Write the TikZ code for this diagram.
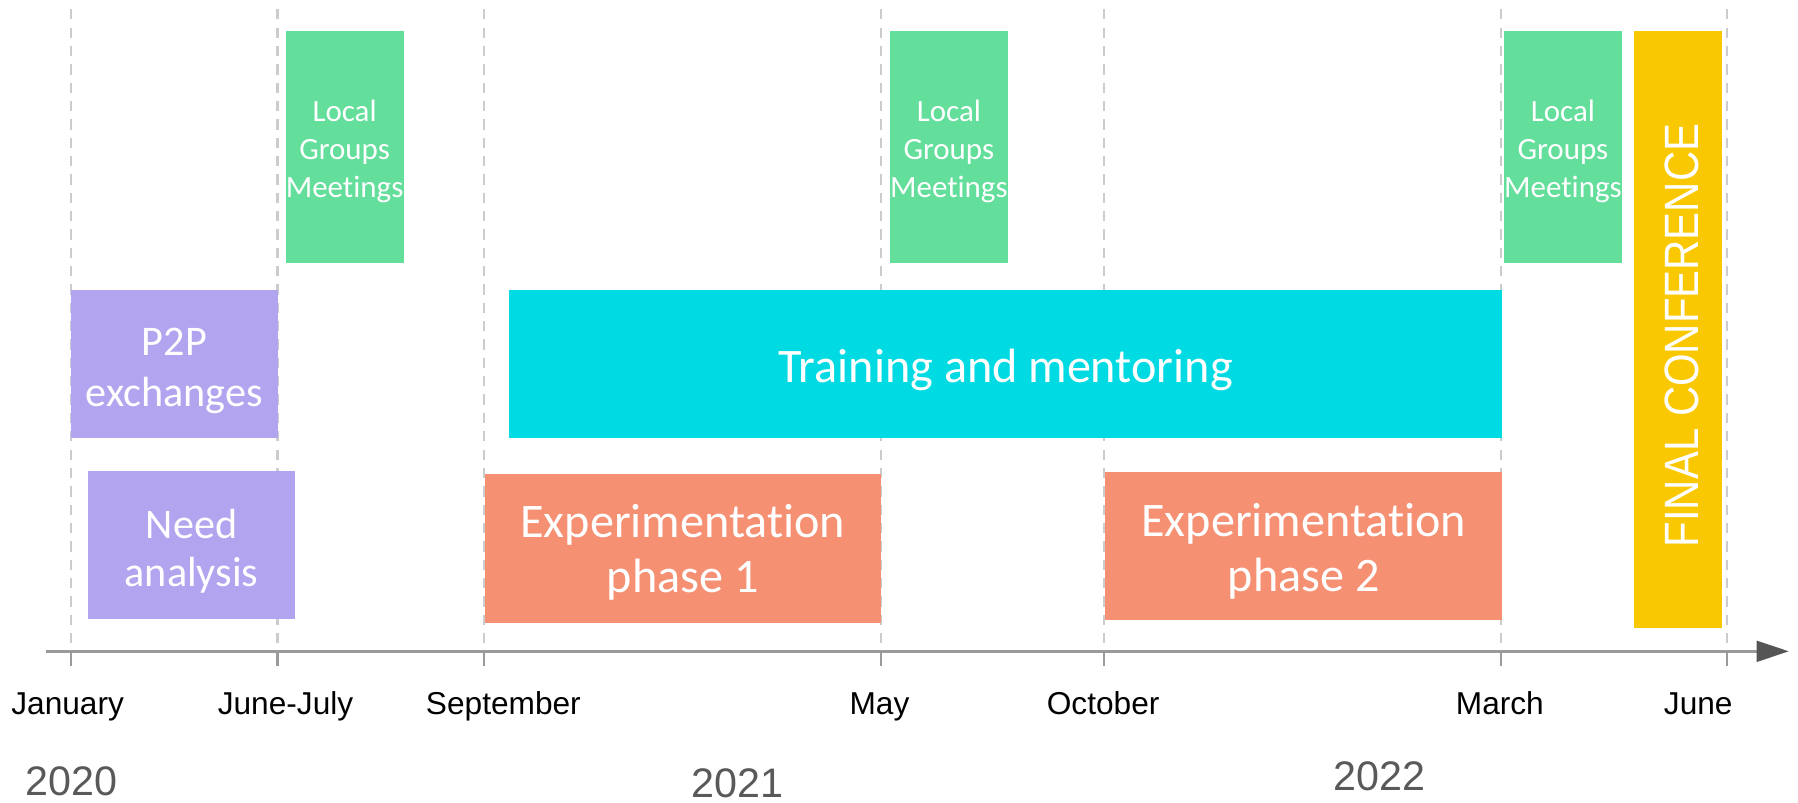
\documentclass[tikz,border=0pt]{standalone}
\usepackage{fontspec}
\setmainfont{Carlito}[Ligatures=NoCommon]
\newfontfamily\arialf{Liberation Sans}
\usetikzlibrary{arrows.meta}
\definecolor{lgreen}{HTML}{63DE9B}
\definecolor{lpurple}{HTML}{B3A4EF}
\definecolor{lcyan}{HTML}{00DAE2}
\definecolor{lsalmon}{HTML}{F59073}
\definecolor{lyellow}{HTML}{F9C800}
\definecolor{gridgray}{HTML}{CCCCCC}
\definecolor{axisgray}{HTML}{9A9A9A}
\definecolor{tipgray}{HTML}{555555}
\definecolor{yeargray}{HTML}{595959}
\tikzset{
  bar/.style={inner sep=0pt, outer sep=0pt},
  bartext/.style={inner sep=0pt, text=white, align=center},
  greenbar/.style={bar, fill=lgreen, minimum width=51.5pt, minimum height=101pt},
  greentext/.style={bartext, font=\fontsize{13.5}{16.5}\selectfont},
  gridline/.style={draw=gridgray, line width=1pt, dash pattern=on 4.5pt off 3.5pt},
  ticklabel/.style={font=\arialf\fontsize{13.8}{16}\selectfont, text=black, inner sep=0pt, anchor=base},
  yearlabel/.style={font=\arialf\fontsize{18}{20}\selectfont, text=yeargray, inner sep=0pt},
}
\begin{document}
\begin{tikzpicture}[x=0.5pt,y=-0.5pt]
\useasboundingbox (0,0) rectangle (1568,700);
% month grid lines
\foreach \n/\x in {jan/62, jun/242, sep/422, may/768, oct/963, mar/1309, jue/1506}{
  \coordinate (\n top) at (\x,8);
  \coordinate (\n ax) at (\x,568);
  \coordinate (\n bot) at (\x,581);
  \draw[gridline] (\n top) -- (\n ax);
  \draw[axisgray, line width=1pt] (\n ax) -- (\n bot);
}
% axis
\coordinate (axstart) at (40,568);
\coordinate (axend) at (1560,568);
\draw[axisgray, line width=1.2pt, -{Triangle[length=14pt,width=9pt,color=tipgray]}] (axstart) -- (axend);
% green boxes
\node[greenbar] (lg1) at (300.5,128) {};
\node[greenbar] (lg2) at (827.5,128) {};
\node[greenbar] (lg3) at (1363,128) {};
\node[greentext] (lg1t) at ([yshift=-2pt]lg1.center) {Local\\Groups\\Meetings};
\node[greentext] (lg2t) at ([yshift=-2pt]lg2.center) {Local\\Groups\\Meetings};
\node[greentext] (lg3t) at ([yshift=-2pt]lg3.center) {Local\\Groups\\Meetings};
% purple boxes
\node[bar, fill=lpurple, minimum width=90pt, minimum height=64.5pt] (p2p) at (152,317.5) {};
\node[bartext, font=\fontsize{18.4}{22.5}\selectfont] (p2pt) at ([yshift=-3pt]p2p.center) {P2P\\exchanges};
\node[bar, fill=lpurple, minimum width=90pt, minimum height=64.5pt] (need) at (167,475.5) {};
\node[bartext, font=\fontsize{18.4}{21}\selectfont] (needt) at ([yshift=-2.5pt]need.center) {Need\\analysis};
% training
\node[bar, fill=lcyan, minimum width=433pt, minimum height=64.5pt] (train) at (877,317.5) {};
\node[bartext, font=\fontsize{21}{24}\selectfont] (traint) at ([yshift=-2.5pt]train.center) {Training and mentoring};
% experimentation
\node[bar, fill=lsalmon, minimum width=172.5pt, minimum height=65pt] (exp1) at (595.5,478) {};
\node[bartext, font=\fontsize{21}{24}\selectfont] (exp1t) at ([yshift=-2pt]exp1.center) {Experimentation\\phase 1};
\node[bar, fill=lsalmon, minimum width=173pt, minimum height=64.5pt] (exp2) at (1137,476.5) {};
\node[bartext, font=\fontsize{21}{24}\selectfont] (exp2t) at ([yshift=-2pt]exp2.center) {Experimentation\\phase 2};
% final conference
\node[bar, fill=lyellow, minimum width=38.5pt, minimum height=260.5pt] (final) at (1463.5,287.5) {};
\node[text=white, inner sep=0pt, rotate=90, font=\arialf\fontsize{21}{24}\selectfont]
  (finaltext) at (1467,292.5) {\scalebox{0.87}[1]{FINAL CONFERENCE}};
% month labels
\node[ticklabel] (ljan) at (59,623) {January};
\node[ticklabel] (ljun) at (249,623) {June-July};
\node[ticklabel] (lsep) at (439,623) {September};
\node[ticklabel] (lmay) at (767,623) {May};
\node[ticklabel] (loct) at (962,623) {October};
\node[ticklabel] (lmar) at (1308,623) {March};
\node[ticklabel] (ljue) at (1481,623) {June};
% years
\node[yearlabel] (y2020) at (62,681) {2020};
\node[yearlabel] (y2021) at (643,683) {2021};
\node[yearlabel] (y2022) at (1203,677) {2022};
\end{tikzpicture}
\end{document}
